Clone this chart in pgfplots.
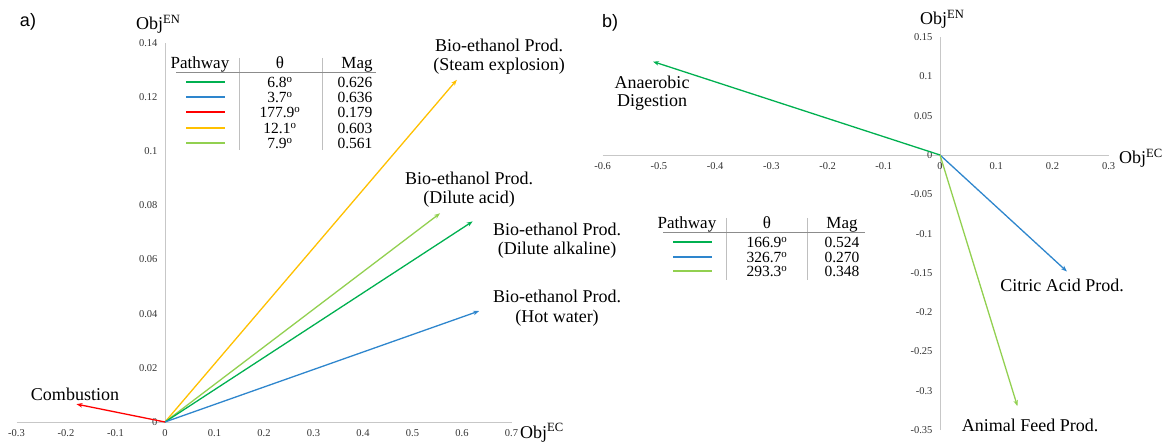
\documentclass[border=0pt]{standalone}
\usepackage{fontspec}
\setmainfont{Liberation Serif}
\newfontfamily\arial{Liberation Sans}
\usepackage{pgfplots}
\pgfplotsset{compat=1.18}
\usetikzlibrary{arrows.meta}
\definecolor{cgreen}{RGB}{0,176,80}
\definecolor{cblue}{RGB}{46,134,205}
\definecolor{cred}{RGB}{255,0,0}
\definecolor{cyellow}{RGB}{255,192,0}
\definecolor{clgreen}{RGB}{146,208,80}
\newcommand{\lf}{\fontsize{18}{20}\selectfont}
\newcommand{\tf}{\fontsize{15.5}{16}\selectfont}
\pgfplotsset{
  vecax/.style={scale only axis, axis lines=middle, enlargelimits=false,
    axis line style={-, draw=black!22, line width=0.8pt},
    major tick length=0pt, scaled ticks=false,
    /pgf/number format/assume math mode=true,
    /pgf/number format/fixed, /pgf/number format/precision=2,
    ticklabel style={font=\fontsize{10.5}{12}\selectfont, text=black!80},
    xticklabel style={yshift=-4pt}, yticklabel style={xshift=-4pt},
    hide obscured x ticks=false, hide obscured y ticks=false, clip=false},
  vec/.style={line width=1.3pt, -{Stealth[length=6pt,width=4.5pt]}}
}
\begin{document}
\begin{tikzpicture}
\useasboundingbox (0,0) rectangle (1168pt,442pt);
% ---------- panel a ----------
\begin{axis}[vecax, anchor=origin, at={(165pt,20pt)}, width=495pt, height=379pt,
  xmin=-0.3, xmax=0.7, ymin=0, ymax=0.14,
  xtick={-0.3,-0.2,-0.1,0,0.1,0.2,0.3,0.4,0.5,0.6,0.7},
  ytick={0,0.02,0.04,0.06,0.08,0.1,0.12,0.14}]
\addplot[vec, cyellow] coordinates {(0,0) (0.5896,0.1264)};
\addplot[vec, clgreen] coordinates {(0,0) (0.5557,0.0771)};
\addplot[vec, cgreen] coordinates {(0,0) (0.6216,0.0741)};
\addplot[vec, cblue] coordinates {(0,0) (0.6347,0.0410)};
\addplot[vec, cred] coordinates {(0,0) (-0.1789,0.0066)};
\end{axis}
% ---------- panel b ----------
\begin{axis}[vecax, anchor=origin, at={(940pt,287pt)}, width=506pt, height=393pt,
  xmin=-0.6, xmax=0.3, ymin=-0.35, ymax=0.15,
  xtick={-0.6,-0.5,-0.4,-0.3,-0.2,-0.1,0,0.1,0.2,0.3},
  ytick={-0.35,-0.3,-0.25,-0.2,-0.15,-0.1,-0.05,0,0.05,0.1,0.15}]
\addplot[vec, cgreen] coordinates {(0,0) (-0.5104,0.1188)};
\addplot[vec, cblue] coordinates {(0,0) (0.2257,-0.1482)};
\addplot[vec, clgreen] coordinates {(0,0) (0.1377,-0.3196)};
\end{axis}
% ---------- annotations (pixel coordinates, y downwards) ----------
\begin{scope}[x=1pt, y=-1pt, shift={(0,442pt)}, every node/.style={inner sep=0pt, font=\lf}]
\node[font=\arial\fontsize{18}{20}\selectfont] at (28,22) {a)};
\node[font=\arial\fontsize{18}{20}\selectfont] at (610,23) {b)};
\node[anchor=base west] at (136,30) {Obj\textsuperscript{EN}};
\node[anchor=base west] at (520,438) {Obj\textsuperscript{EC}};
\node[anchor=base west] at (920,25) {Obj\textsuperscript{EN}};
\node[anchor=base west] at (1119,164) {Obj\textsuperscript{EC}};
% panel a labels
\node at (499,45) {Bio-ethanol Prod.};
\node at (499,66) {(Steam explosion)};
\node at (469,178) {Bio-ethanol Prod.};
\node at (469,199) {(Dilute acid)};
\node at (557,229) {Bio-ethanol Prod.};
\node at (557,250) {(Dilute alkaline)};
\node at (557,296) {Bio-ethanol Prod.};
\node at (557,318) {(Hot water)};
\node at (75,394) {Combustion};
% panel b labels
\node at (652,82) {Anaerobic};
\node at (652,102) {Digestion};
\node at (1062,285) {Citric Acid Prod.};
\node at (1030,425) {Animal Feed Prod.};
% table a
\draw[black!25, line width=0.8pt] (239,58) -- (239,150) (322,58) -- (322,150);
\draw[black!45, line width=0.8pt] (176,72) -- (376,72);
\node[font=\fontsize{17}{17}\selectfont, anchor=base] at (200,69) {Pathway};
\node[font=\fontsize{17}{17}\selectfont, anchor=base] at (280,69) {θ};
\node[font=\fontsize{17}{17}\selectfont, anchor=base] at (357,69) {Mag};
\foreach \y/\c/\t/\m in {82/cgreen/6.8/0.626, 97/cblue/3.7/0.636, 112/cred/177.9/0.179, 128/cyellow/12.1/0.603, 143/clgreen/7.9/0.561}{
  \draw[\c, line width=1.3pt] (186,\y) -- (225,\y);
  \node[font=\tf, anchor=base] at (280,\y+6) {\t\textsuperscript{o}};
  \node[font=\tf, anchor=base] at (355,\y+6) {\m};
}
% table b
\draw[black!25, line width=0.8pt] (726,218) -- (726,280) (807,218) -- (807,280);
\draw[black!45, line width=0.8pt] (663,232) -- (865,232);
\node[font=\fontsize{17}{17}\selectfont, anchor=base] at (687,229) {Pathway};
\node[font=\fontsize{17}{17}\selectfont, anchor=base] at (767,229) {θ};
\node[font=\fontsize{17}{17}\selectfont, anchor=base] at (842,229) {Mag};
\foreach \y/\c/\t/\m in {242/cgreen/166.9/0.524, 257/cblue/326.7/0.270, 271/clgreen/293.3/0.348}{
  \draw[\c, line width=1.3pt] (673,\y) -- (712,\y);
  \node[font=\tf, anchor=base] at (767,\y+6) {\t\textsuperscript{o}};
  \node[font=\tf, anchor=base] at (842,\y+6) {\m};
}
\end{scope}
\end{tikzpicture}
\end{document}
